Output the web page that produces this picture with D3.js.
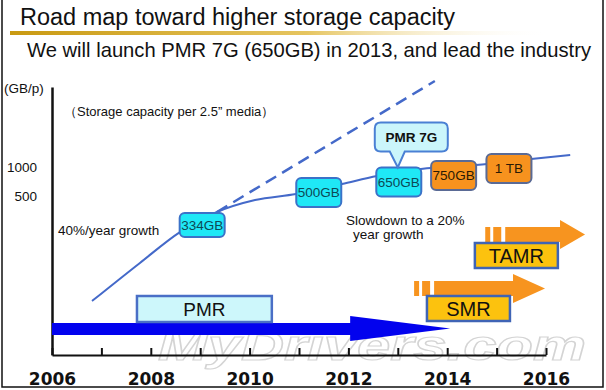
<!DOCTYPE html>
<html>
<head>
<meta charset="utf-8">
<script src="https://cdn.jsdelivr.net/npm/d3@7"></script>
<style>
  html, body { margin: 0; padding: 0; background: #fff; }
  svg { display: block; font-family: "Liberation Sans", Arial, sans-serif; }
</style>
</head>
<body>
<div id="chart"><svg></svg></div>
<script>
// capacity curve (year, GB per 2.5" platter)
const curveYears = [2006.81, 2007.78, 2008.59, 2009.34, 2010.11, 2010.94, 2011.87, 2012.58, 2013.47, 2014.58, 2015.70, 2016.49];
const curveGB    = [40.6, 101, 211, 341, 454, 524, 666, 806, 953, 1049, 1211, 1332];

// 40%/year extrapolation (dashed)
const trendYears = [2009.34, 2013.75];
const trendGB    = [341, 7810];

// milestone boxes
const milestoneLabels = ['334GB', '500GB', '650GB', '750GB', '1 TB'];
const milestoneYears  = [2009.04, 2011.40, 2013.02, 2014.13, 2015.25];
const milestoneGB     = [250, 544, 699, 816, 965];
const milestoneStatus = ['done', 'done', 'done', 'plan', 'plan'];

// recording technologies
const techNames      = ['PMR', 'SMR', 'TAMR'];
const techBoxStart   = [2007.72, 2013.59, 2014.56];
const techBoxEnd     = [2010.45, 2015.27, 2016.24];
const techArrowStart = [2006.00, 2013.33, 2014.77];
const techArrowEnd   = [2014.06, 2015.98, 2016.79];

const yearTicks = d3.range(2006, 2017);
const capTicks = [500, 1000];

const WIDTH = 606, HEIGHT = 390;
const PLOT = { left: 52, right: 546, top: 87, bottom: 355 };

const svg = d3.select('#chart').select('svg')
  .attr('width', WIDTH)
  .attr('height', HEIGHT);

const xScale = d3.scaleLinear().domain([2006, 2016]).range([PLOT.left, PLOT.right]);
// log scale pinned so that 1000 and 500 sit where the picture has them
const yScale = d3.scaleLog().domain([500, 1000]).range([196, 167]);
yScale.domain([yScale.invert(PLOT.bottom), yScale.invert(PLOT.top)]).range([PLOT.bottom, PLOT.top]);

// frame
svg.append('path')
  .attr('d', `M2,0V387H603V0`)
  .attr('fill', 'none')
  .attr('stroke', '#111')
  .attr('stroke-width', 1.5);

// watermark (behind everything else)
svg.append('text')
  .attr('x', 158).attr('y', 360)
  .attr('font-size', 42)
  .attr('font-weight', 'bold')
  .attr('font-style', 'italic')
  .attr('textLength', 428)
  .attr('lengthAdjust', 'spacingAndGlyphs')
  .attr('fill', '#ffffff')
  .attr('stroke', '#d4d4d4')
  .attr('stroke-width', 1.2)
  .text('MyDrivers.com');

// title + gold rule
const grad = svg.append('defs').append('linearGradient').attr('id', 'gold');
grad.append('stop').attr('offset', '0%').attr('stop-color', '#c99a12');
grad.append('stop').attr('offset', '55%').attr('stop-color', '#e6c560');
grad.append('stop').attr('offset', '100%').attr('stop-color', '#ffffff').attr('stop-opacity', 0);
svg.append('rect')
  .attr('x', 10).attr('y', 31).attr('width', 540).attr('height', 4)
  .attr('fill', 'url(#gold)');

svg.append('text')
  .attr('x', 20).attr('y', 25)
  .attr('font-size', 23.5)
  .attr('fill', '#111')
  .text('Road map toward higher storage capacity');

svg.append('text')
  .attr('x', 27).attr('y', 57)
  .attr('font-size', 20.2)
  .attr('fill', '#111')
  .text('We will launch PMR 7G (650GB) in 2013, and lead the industry');

// axes
svg.append('g')
  .attr('transform', `translate(0, ${PLOT.bottom})`)
  .call(d3.axisBottom(xScale)
    .tickValues(yearTicks)
    .tickSizeInner(-7)
    .tickSizeOuter(0)
    .tickPadding(18)
    .tickFormat(d => d % 2 === 0 ? d : ''))
  .call(g => g.select('.domain').attr('stroke', '#111').attr('stroke-width', 2))
  .call(g => g.selectAll('.tick line').attr('stroke', '#111').attr('stroke-width', 2))
  .call(g => g.selectAll('.tick text')
    .attr('font-family', '"DejaVu Sans", sans-serif')
    .attr('font-weight', 'bold')
    .attr('font-size', 17)
    .attr('fill', '#111'));

svg.append('g')
  .attr('transform', `translate(${PLOT.left}, 0)`)
  .call(d3.axisLeft(yScale)
    .tickValues(capTicks)
    .tickSize(0)
    .tickPadding(15)
    .tickFormat(d3.format('d')))
  .call(g => g.select('.domain').attr('stroke', '#111').attr('stroke-width', 2.5))
  .call(g => g.selectAll('.tick text')
    .attr('font-family', '"Liberation Sans", Arial, sans-serif')
    .attr('font-size', 13.5)
    .attr('fill', '#111'));

svg.append('text')
  .attr('x', 4).attr('y', 93)
  .attr('font-size', 13.5)
  .attr('fill', '#111')
  .text('(GB/p)');

svg.append('text')
  .attr('x', 64).attr('y', 116)
  .attr('font-size', 13)
  .attr('fill', '#111')
  .text('\uFF08Storage capacity per 2.5\u201D media\uFF09');

// growth notes
svg.append('text')
  .attr('x', 58).attr('y', 235)
  .attr('font-size', 13.5).attr('fill', '#111')
  .text('40%/year growth');

const slow = svg.append('text')
  .attr('font-size', 13.5).attr('fill', '#111');
slow.append('tspan').attr('x', 346).attr('y', 225).text('Slowdown to a 20%');
slow.append('tspan').attr('x', 353).attr('y', 239).text('year growth');

// curves
const curveData = curveYears.map((y, i) => ({ year: y, gb: curveGB[i] }));
const trendData = trendYears.map((y, i) => ({ year: y, gb: trendGB[i] }));

const line = d3.line()
  .x(d => xScale(d.year))
  .y(d => yScale(d.gb))
  .curve(d3.curveMonotoneX);

svg.append('path')
  .datum(trendData)
  .attr('d', d3.line().x(d => xScale(d.year)).y(d => yScale(d.gb)))
  .attr('fill', 'none')
  .attr('stroke', '#4469c9')
  .attr('stroke-width', 2.5)
  .attr('stroke-dasharray', '12,7');

svg.append('path')
  .datum(curveData)
  .attr('d', line)
  .attr('fill', 'none')
  .attr('stroke', '#4469c9')
  .attr('stroke-width', 2);

// technology lanes
const lanes = [
  { shaftTop: 323, shaftBot: 335, headTop: 316, headBot: 341, headLen: 100, color: '#0202ee', stripes: false,
    boxTop: 296, boxBot: 322, boxFill: '#cdf7fb', boxStroke: '#4a6fc6', fontSize: 19 },
  { shaftTop: 281, shaftBot: 296, headTop: 274, headBot: 303, headLen: 32, color: '#f7941f', stripes: true,
    boxTop: 296, boxBot: 321, boxFill: '#fcc20e', boxStroke: '#3f64b5', fontSize: 20 },
  { shaftTop: 227, shaftBot: 242, headTop: 220, headBot: 249, headLen: 25, color: '#f7941f', stripes: true,
    boxTop: 243, boxBot: 268, boxFill: '#fcc20e', boxStroke: '#3f64b5', fontSize: 20 }
];

const techData = techNames.map((name, i) => ({
  name, boxStart: techBoxStart[i], boxEnd: techBoxEnd[i],
  arrowStart: techArrowStart[i], arrowEnd: techArrowEnd[i], lane: lanes[i]
}));

const techG = svg.append('g').selectAll('g')
  .data(techData)
  .enter()
  .append('g');

techG.append('path')
  .attr('fill', d => d.lane.color)
  .attr('d', d => {
    const L = d.lane;
    const x0 = xScale(d.arrowStart) + (L.stripes ? 20 : 0);
    const tip = xScale(d.arrowEnd);
    const hx = tip - L.headLen;
    const mid = (L.headTop + L.headBot) / 2;
    return `M${x0},${L.shaftTop}H${hx}V${L.headTop}L${tip},${mid}L${hx},${L.headBot}V${L.shaftBot}H${x0}Z`;
  });

techG.filter(d => d.lane.stripes)
  .selectAll('rect.stripe')
  .data(d => [[0, 5], [8, 16]].map(s => ({ d, s })))
  .enter()
  .append('rect')
  .attr('class', 'stripe')
  .attr('x', o => xScale(o.d.arrowStart) + o.s[0])
  .attr('width', o => o.s[1] - o.s[0])
  .attr('y', o => o.d.lane.shaftTop)
  .attr('height', o => o.d.lane.shaftBot - o.d.lane.shaftTop)
  .attr('fill', o => o.d.lane.color);

techG.append('rect')
  .attr('x', d => xScale(d.boxStart))
  .attr('width', d => xScale(d.boxEnd) - xScale(d.boxStart))
  .attr('y', d => d.lane.boxTop)
  .attr('height', d => d.lane.boxBot - d.lane.boxTop)
  .attr('fill', d => d.lane.boxFill)
  .attr('stroke', d => d.lane.boxStroke)
  .attr('stroke-width', 2.5);

techG.append('text')
  .attr('x', d => (xScale(d.boxStart) + xScale(d.boxEnd)) / 2)
  .attr('y', d => (d.lane.boxTop + d.lane.boxBot) / 2)
  .attr('dy', '0.36em')
  .attr('text-anchor', 'middle')
  .attr('font-size', d => d.lane.fontSize)
  .attr('fill', '#111')
  .text(d => d.name);

// milestone boxes
const BOX_W = 45, BOX_H = 29;
const milestones = milestoneLabels.map((label, i) => ({
  label, year: milestoneYears[i], gb: milestoneGB[i], status: milestoneStatus[i]
}));

const ms = svg.append('g').selectAll('g')
  .data(milestones)
  .enter()
  .append('g')
  .attr('transform', d => `translate(${xScale(d.year)}, ${yScale(d.gb)})`);

ms.append('rect')
  .attr('x', -BOX_W / 2)
  .attr('y', (d, i) => i === 0 ? -12 : -BOX_H / 2)
  .attr('width', BOX_W)
  .attr('height', (d, i) => i === 0 ? 24 : BOX_H)
  .attr('rx', 5)
  .attr('fill', d => d.status === 'done' ? '#1fe8f6' : '#f7921e')
  .attr('stroke', d => d.status === 'done' ? '#3b72c8' : '#5a6a95')
  .attr('stroke-width', 2);

ms.append('text')
  .attr('text-anchor', 'middle')
  .attr('dy', '0.36em')
  .attr('font-size', 13.5)
  .attr('fill', d => d.status === 'done' ? '#0d4955' : '#2a1a05')
  .text(d => d.label);

// PMR 7G callout on the 650GB box
const launch = milestones[2];
const cx = xScale(launch.year);
const boxTop = yScale(launch.gb) - BOX_H / 2;
const cb = boxTop - 16, ct = cb - 29, cl = cx - 24, cr = cx + 49, r = 6;
svg.append('path')
  .attr('d', `M${cl + r},${ct}H${cr - r}Q${cr},${ct} ${cr},${ct + r}V${cb - r}Q${cr},${cb} ${cr - r},${cb}` +
             `H${cx + 6}L${cx - 1},${boxTop}L${cx - 9},${cb}H${cl + r}Q${cl},${cb} ${cl},${cb - r}V${ct + r}Q${cl},${ct} ${cl + r},${ct}Z`)
  .attr('fill', '#cbf6fb')
  .attr('stroke', '#4a80d4')
  .attr('stroke-width', 2);
svg.append('text')
  .attr('x', (cl + cr) / 2).attr('y', (ct + cb) / 2)
  .attr('dy', '0.36em')
  .attr('text-anchor', 'middle')
  .attr('font-size', 13.5)
  .attr('font-weight', 'bold')
  .attr('fill', '#111')
  .text('PMR 7G');
</script>
</body>
</html>
